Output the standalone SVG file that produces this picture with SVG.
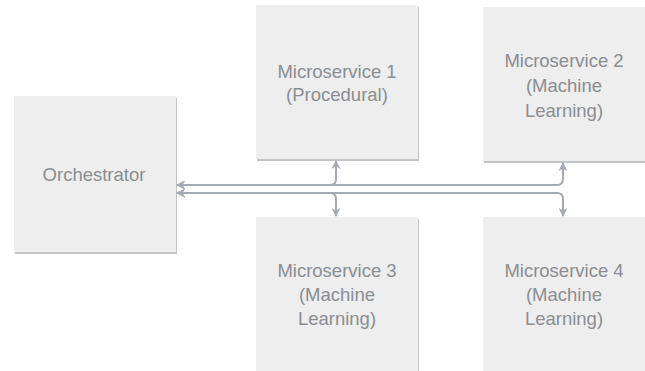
<svg xmlns="http://www.w3.org/2000/svg" width="645" height="371" viewBox="0 0 645 371">
  <style>
    .shadow { fill: #c2c3c4; }
    .box { fill: #edeeed; }
    .label { font-family: "Liberation Sans", Arial, Helvetica, sans-serif; font-size: 18.5px; fill: #8b8d91; text-anchor: middle; }
    .edge { fill: none; stroke: #a5aab4; stroke-width: 2; }
  </style>
  <defs>
    <marker id="arrow" viewBox="0 0 10 10" refX="9" refY="5" markerWidth="4.5" markerHeight="4.5" orient="auto-start-reverse" markerUnits="strokeWidth">
      <path d="M0,0 L10,5 L0,10 L3,5 z" fill="#a5aab4"/>
    </marker>
  </defs>

  <rect width="645" height="371" fill="#ffffff"/>

  <!-- nodes -->
  <g id="orchestrator">
    <rect class="shadow" x="15" y="98" width="162" height="156"/>
    <rect class="box" x="14" y="96" width="162" height="156"/>
    <text class="label" x="94" y="181">Orchestrator</text>
  </g>

  <g id="microservice-1">
    <rect class="shadow" x="257" y="7" width="162" height="154"/>
    <rect class="box" x="256" y="5" width="162" height="154"/>
    <text class="label" x="337" y="78">Microservice 1</text>
    <text class="label" x="337" y="101">(Procedural)</text>
  </g>

  <g id="microservice-2">
    <rect class="shadow" x="484" y="9" width="162" height="154"/>
    <rect class="box" x="483" y="7" width="162" height="154"/>
    <text class="label" x="564" y="67">Microservice 2</text>
    <text class="label" x="564" y="92">(Machine</text>
    <text class="label" x="564" y="117">Learning)</text>
  </g>

  <g id="microservice-3">
    <rect class="shadow" x="257" y="219" width="162" height="156"/>
    <rect class="box" x="256" y="217" width="162" height="156"/>
    <text class="label" x="337" y="277">Microservice 3</text>
    <text class="label" x="337" y="301">(Machine</text>
    <text class="label" x="337" y="325">Learning)</text>
  </g>

  <g id="microservice-4">
    <rect class="shadow" x="484" y="219" width="162" height="156"/>
    <rect class="box" x="483" y="217" width="162" height="156"/>
    <text class="label" x="564" y="277">Microservice 4</text>
    <text class="label" x="564" y="301">(Machine</text>
    <text class="label" x="564" y="325">Learning)</text>
  </g>

  <!-- connectors -->
  <g id="connectors">
    <path class="edge" d="M177,185 H330 Q336,185 336,179 V161" marker-start="url(#arrow)" marker-end="url(#arrow)"/>
    <path class="edge" d="M177,185 H557 Q563,185 563,179 V163" marker-start="url(#arrow)" marker-end="url(#arrow)"/>
    <path class="edge" d="M177,193 H330 Q336,193 336,199 V216" marker-start="url(#arrow)" marker-end="url(#arrow)"/>
    <path class="edge" d="M177,193 H557 Q563,193 563,199 V216" marker-start="url(#arrow)" marker-end="url(#arrow)"/>
  </g>
</svg>
